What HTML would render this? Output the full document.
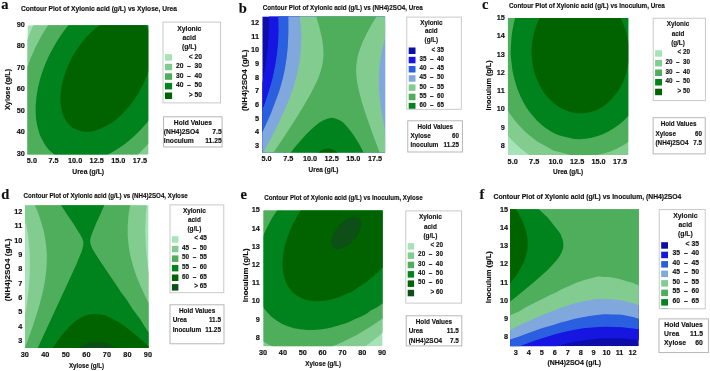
<!DOCTYPE html>
<html><head><meta charset="utf-8"><title>Contour plots</title>
<style>html,body{margin:0;padding:0;background:#fff;width:710px;height:371px;overflow:hidden}svg{display:block}</style>
</head><body>
<svg width="710" height="371" viewBox="0 0 710 371" font-family="Liberation Sans, sans-serif" fill="#111" stroke="#111" stroke-width="0.15">
<defs><filter id="soft" x="0" y="0" width="1" height="1"><feGaussianBlur stdDeviation="0.4"/></filter></defs>
<rect width="710" height="371" fill="#fff" stroke="none"/>
<g filter="url(#soft)">
<clipPath id="cpa"><rect x="27.4" y="25.2" width="120.9" height="129.2"/></clipPath>
<g clip-path="url(#cpa)" stroke="none">
<rect x="27.4" y="25.2" width="120.9" height="129.2" fill="#a6e3b8"/>
<path d="M33.3 25.1 33.4 24.7 148.8 24.7 148.8 154.9 26.9 154.9 26.9 40.6 30.0 32.5 33.3 25.1Z" fill="#82cc8f" fill-rule="evenodd"/>
<path d="M48.4 24.7 148.8 24.7 148.8 143.3 142.4 150.1 137.6 154.9 26.9 154.9 26.9 68.2 30.6 58.2 35.7 46.7 41.5 35.7 44.7 30.5 48.4 24.7Z" fill="#50ae5b" fill-rule="evenodd"/>
<path d="M68.5 25.1 68.8 24.7 148.8 24.7 148.8 120.4 145.4 124.6 139.5 131.0 135.6 134.8 128.7 140.9 123.5 145.0 117.5 149.1 112.6 152.1 107.2 154.9 54.8 154.9 51.9 152.6 48.9 149.9 47.5 148.3 45.5 145.6 43.1 141.6 41.0 137.6 39.7 134.5 38.4 130.3 37.1 125.1 36.1 119.3 35.7 113.1 35.6 106.8 36.1 100.0 36.9 93.7 38.2 86.4 40.1 79.1 42.2 72.3 44.9 65.0 48.1 57.6 51.4 51.1 55.6 43.5 58.7 38.5 63.1 32.1 68.5 25.1Z" fill="#03831e" fill-rule="evenodd"/>
<path d="M99.8 25.0 100.3 24.7 145.5 24.7 147.3 27.6 148.8 30.6 148.8 70.6 146.8 75.9 143.9 82.8 138.6 93.2 132.6 102.1 129.7 105.7 125.8 110.3 120.4 115.7 115.5 119.9 112.1 122.4 106.0 126.1 100.8 128.6 96.4 130.2 91.4 131.4 86.6 131.8 82.7 131.5 79.8 130.8 75.9 129.4 73.4 128.2 71.2 126.7 69.4 125.1 67.5 123.0 65.1 119.3 64.0 117.3 62.6 113.9 61.7 110.6 60.5 102.6 60.4 96.3 61.3 87.4 63.2 79.1 66.1 70.2 70.0 61.2 72.4 56.6 74.9 52.4 80.3 44.5 86.2 37.2 89.6 33.8 93.0 30.5 99.8 25.0Z" fill="#006400" fill-rule="evenodd"/>
</g>
<text x="1.2" y="9.1" font-family="Liberation Serif, serif" font-weight="bold" font-size="14.5">a</text>
<text x="20.9" y="11.0" font-size="7.00" text-anchor="start" font-weight="bold" textLength="156.1" lengthAdjust="spacingAndGlyphs">Contour Plot of Xylonic acid (g/L) vs Xylose, Urea</text>
<text x="24.9" y="155.6" font-size="7.30" text-anchor="end" font-weight="bold">30</text>
<text x="24.9" y="134.2" font-size="7.30" text-anchor="end" font-weight="bold">40</text>
<text x="24.9" y="112.7" font-size="7.30" text-anchor="end" font-weight="bold">50</text>
<text x="24.9" y="91.3" font-size="7.30" text-anchor="end" font-weight="bold">60</text>
<text x="24.9" y="69.8" font-size="7.30" text-anchor="end" font-weight="bold">70</text>
<text x="24.9" y="48.4" font-size="7.30" text-anchor="end" font-weight="bold">80</text>
<text x="24.9" y="26.9" font-size="7.30" text-anchor="end" font-weight="bold">90</text>
<text x="31.9" y="163.4" font-size="7.30" text-anchor="middle" font-weight="bold">5.0</text>
<text x="53.5" y="163.4" font-size="7.30" text-anchor="middle" font-weight="bold">7.5</text>
<text x="75.1" y="163.4" font-size="7.30" text-anchor="middle" font-weight="bold">10.0</text>
<text x="96.7" y="163.4" font-size="7.30" text-anchor="middle" font-weight="bold">12.5</text>
<text x="118.3" y="163.4" font-size="7.30" text-anchor="middle" font-weight="bold">15.0</text>
<text x="139.9" y="163.4" font-size="7.30" text-anchor="middle" font-weight="bold">17.5</text>
<text x="88.2" y="173.8" font-size="7.00" text-anchor="middle" font-weight="bold" textLength="31.8" lengthAdjust="spacingAndGlyphs">Urea (g/L)</text>
<g transform="translate(7.6 89.4) rotate(-90)"><text x="0.0" y="2.5" font-size="7.00" text-anchor="middle" font-weight="bold" textLength="41.2" lengthAdjust="spacingAndGlyphs">Xylose (g/L)</text></g>
<rect x="163.0" y="22.1" width="57.6" height="80.8" fill="#fff" stroke="#c4c4c4" stroke-width="0.9"/>
<clipPath id="lca"><rect x="163.5" y="22.5" width="56.7" height="79.9"/></clipPath><g clip-path="url(#lca)">
<text x="189.3" y="30.5" font-size="7.54" text-anchor="middle" font-weight="bold" textLength="24.0" lengthAdjust="spacingAndGlyphs">Xylonic</text>
<text x="189.3" y="39.6" font-size="7.54" text-anchor="middle" font-weight="bold" textLength="13.5" lengthAdjust="spacingAndGlyphs">acid</text>
<text x="189.3" y="48.6" font-size="7.54" text-anchor="middle" font-weight="bold" textLength="14.6" lengthAdjust="spacingAndGlyphs">(g/L)</text>
<rect x="165.0" y="54.2" width="7.1" height="6.5" fill="#a6e3b8" stroke="none"/>
<text x="202.1" y="58.7" font-size="7.54" text-anchor="end" font-weight="bold" textLength="13.3" lengthAdjust="spacingAndGlyphs" xml:space="preserve">&lt; 20</text>
<rect x="165.0" y="63.8" width="7.1" height="6.5" fill="#82cc8f" stroke="none"/>
<text x="202.1" y="68.2" font-size="7.54" text-anchor="end" font-weight="bold" textLength="26.2" lengthAdjust="spacingAndGlyphs" xml:space="preserve">20  –  30</text>
<rect x="165.0" y="73.3" width="7.1" height="6.5" fill="#50ae5b" stroke="none"/>
<text x="202.1" y="77.8" font-size="7.54" text-anchor="end" font-weight="bold" textLength="26.2" lengthAdjust="spacingAndGlyphs" xml:space="preserve">30  –  40</text>
<rect x="165.0" y="82.9" width="7.1" height="6.5" fill="#03831e" stroke="none"/>
<text x="202.1" y="87.4" font-size="7.54" text-anchor="end" font-weight="bold" textLength="26.2" lengthAdjust="spacingAndGlyphs" xml:space="preserve">40  –  50</text>
<rect x="165.0" y="92.5" width="7.1" height="6.5" fill="#006400" stroke="none"/>
<text x="202.1" y="96.9" font-size="7.54" text-anchor="end" font-weight="bold" textLength="13.3" lengthAdjust="spacingAndGlyphs" xml:space="preserve">&gt; 50</text>
</g>
<rect x="163.6" y="116.8" width="58.5" height="30.2" fill="#fff" stroke="#b0b0b0" stroke-width="0.9"/>
<text x="192.9" y="124.9" font-size="7.54" text-anchor="middle" font-weight="bold" textLength="38.2" lengthAdjust="spacingAndGlyphs">Hold Values</text>
<text x="163.8" y="134.1" font-size="7.54" text-anchor="start" font-weight="bold" textLength="35.2" lengthAdjust="spacingAndGlyphs">(NH4)2SO4</text>
<text x="221.7" y="134.1" font-size="7.54" text-anchor="end" font-weight="bold" textLength="9.4" lengthAdjust="spacingAndGlyphs">7.5</text>
<text x="163.8" y="143.3" font-size="7.54" text-anchor="start" font-weight="bold" textLength="30.0" lengthAdjust="spacingAndGlyphs">Inoculum</text>
<text x="221.7" y="143.3" font-size="7.54" text-anchor="end" font-weight="bold" textLength="16.5" lengthAdjust="spacingAndGlyphs">11.25</text>
<clipPath id="cpb"><rect x="262.3" y="16.4" width="122.8" height="136.2"/></clipPath>
<g clip-path="url(#cpb)" stroke="none">
<rect x="262.3" y="16.4" width="122.8" height="136.2" fill="#0c0aa8"/>
<path d="M269.3 15.9 385.6 15.9 385.6 153.1 261.8 153.1 261.8 84.3 264.9 68.2 267.0 52.3 268.3 36.8 268.7 28.0 269.0 15.9 269.3 15.9Z" fill="#1212e0" fill-rule="evenodd"/>
<path d="M278.2 15.9 385.6 15.9 385.6 153.1 261.8 153.1 261.8 111.0 265.3 101.9 269.9 87.5 272.5 78.2 275.1 66.0 276.9 54.5 278.1 41.8 278.5 31.3 278.2 15.9Z" fill="#2a5ee0" fill-rule="evenodd"/>
<path d="M288.6 15.9 385.6 15.9 385.6 153.1 261.8 153.1 261.8 133.7 270.3 115.1 276.4 99.1 279.5 90.3 281.4 83.7 283.0 77.6 284.7 69.9 286.6 58.3 287.8 46.8 288.4 32.4 288.4 15.9 288.6 15.9Z" fill="#80a8dc" fill-rule="evenodd"/>
<path d="M300.1 15.9 385.6 15.9 385.6 36.5 382.8 46.8 380.6 58.3 379.7 64.9 379.2 70.4 379.0 74.3 378.9 80.9 379.1 90.3 379.9 99.1 380.7 105.7 381.9 114.0 385.6 133.5 385.6 153.1 262.9 153.1 269.8 140.4 275.3 130.0 279.8 120.6 283.9 111.8 289.2 99.1 292.4 90.3 296.7 76.0 299.7 61.1 301.1 46.8 301.2 35.7 300.9 26.4 299.7 15.9 300.1 15.9Z" fill="#82cc8f" fill-rule="evenodd"/>
<path d="M316.5 15.9 376.8 15.9 370.9 25.8 366.5 34.1 362.8 41.8 360.1 48.4 358.3 53.9 357.2 58.9 356.3 65.5 356.1 71.0 356.7 78.7 357.6 84.8 359.5 93.0 361.9 101.9 364.6 110.7 368.9 123.3 372.2 132.7 379.9 153.1 273.2 153.1 287.1 132.2 292.4 123.9 299.4 112.9 306.7 100.8 311.3 92.5 315.2 84.8 318.2 78.2 320.7 71.0 322.2 65.5 323.1 60.0 323.5 54.5 323.3 48.4 322.8 44.0 321.8 37.4 319.2 26.4 316.0 15.9 316.5 15.9Z" fill="#50ae5b" fill-rule="evenodd"/>
<path d="M331.9 117.8 333.9 118.0 335.4 118.4 339.9 120.3 342.8 122.3 346.3 125.7 350.8 131.2 354.3 136.3 359.6 144.8 363.9 153.1 290.3 153.1 296.3 145.4 306.0 134.6 311.5 129.2 315.0 126.1 319.5 122.6 323.0 120.6 327.9 118.5 329.9 118.0 331.9 117.8Z" fill="#03831e" fill-rule="evenodd"/>
<path d="M325.4 148.7 327.4 148.4 328.9 148.4 330.4 148.7 332.9 149.6 335.4 151.0 337.7 153.1 317.3 153.1 321.5 150.3 323.5 149.3 325.4 148.7Z" fill="#006400" fill-rule="evenodd"/>
</g>
<text x="238.7" y="12.7" font-family="Liberation Serif, serif" font-weight="bold" font-size="14.5">b</text>
<text x="262.7" y="9.9" font-size="7.00" text-anchor="start" font-weight="bold" textLength="160.0" lengthAdjust="spacingAndGlyphs">Contour Plot of Xylonic acid (g/L) vs (NH4)2SO4, Urea</text>
<text x="259.0" y="147.9" font-size="7.30" text-anchor="end" font-weight="bold">3</text>
<text x="259.0" y="134.3" font-size="7.30" text-anchor="end" font-weight="bold">4</text>
<text x="259.0" y="120.6" font-size="7.30" text-anchor="end" font-weight="bold">5</text>
<text x="259.0" y="106.9" font-size="7.30" text-anchor="end" font-weight="bold">6</text>
<text x="259.0" y="93.3" font-size="7.30" text-anchor="end" font-weight="bold">7</text>
<text x="259.0" y="79.6" font-size="7.30" text-anchor="end" font-weight="bold">8</text>
<text x="259.0" y="65.9" font-size="7.30" text-anchor="end" font-weight="bold">9</text>
<text x="259.0" y="52.3" font-size="7.30" text-anchor="end" font-weight="bold">10</text>
<text x="259.0" y="38.6" font-size="7.30" text-anchor="end" font-weight="bold">11</text>
<text x="259.0" y="24.9" font-size="7.30" text-anchor="end" font-weight="bold">12</text>
<text x="266.6" y="161.1" font-size="7.30" text-anchor="middle" font-weight="bold">5.0</text>
<text x="288.3" y="161.1" font-size="7.30" text-anchor="middle" font-weight="bold">7.5</text>
<text x="310.0" y="161.1" font-size="7.30" text-anchor="middle" font-weight="bold">10.0</text>
<text x="331.6" y="161.1" font-size="7.30" text-anchor="middle" font-weight="bold">12.5</text>
<text x="353.3" y="161.1" font-size="7.30" text-anchor="middle" font-weight="bold">15.0</text>
<text x="375.0" y="161.1" font-size="7.30" text-anchor="middle" font-weight="bold">17.5</text>
<text x="323.5" y="171.7" font-size="7.00" text-anchor="middle" font-weight="bold" textLength="30.0" lengthAdjust="spacingAndGlyphs">Urea (g/L)</text>
<g transform="translate(244.1 80.4) rotate(-90)"><text x="0.0" y="2.5" font-size="7.00" text-anchor="middle" font-weight="bold" textLength="61.4" lengthAdjust="spacingAndGlyphs">(NH4)2SO4 (g/L)</text></g>
<rect x="406.8" y="17.1" width="54.5" height="92.2" fill="#fff" stroke="#c4c4c4" stroke-width="0.9"/>
<clipPath id="lcb"><rect x="407.2" y="17.5" width="53.6" height="91.3"/></clipPath><g clip-path="url(#lcb)">
<text x="431.4" y="24.5" font-size="7.28" text-anchor="middle" font-weight="bold" textLength="22.3" lengthAdjust="spacingAndGlyphs">Xylonic</text>
<text x="431.4" y="33.4" font-size="7.28" text-anchor="middle" font-weight="bold" textLength="12.6" lengthAdjust="spacingAndGlyphs">acid</text>
<text x="431.4" y="42.4" font-size="7.28" text-anchor="middle" font-weight="bold" textLength="13.6" lengthAdjust="spacingAndGlyphs">(g/L)</text>
<rect x="408.7" y="47.5" width="6.8" height="6.5" fill="#0c0aa8" stroke="none"/>
<text x="443.9" y="51.6" font-size="7.28" text-anchor="end" font-weight="bold" textLength="12.4" lengthAdjust="spacingAndGlyphs" xml:space="preserve">&lt; 35</text>
<rect x="408.7" y="56.8" width="6.8" height="6.5" fill="#1212e0" stroke="none"/>
<text x="443.9" y="60.8" font-size="7.28" text-anchor="end" font-weight="bold" textLength="24.4" lengthAdjust="spacingAndGlyphs" xml:space="preserve">35  –  40</text>
<rect x="408.7" y="66.0" width="6.8" height="6.5" fill="#2a5ee0" stroke="none"/>
<text x="443.9" y="70.0" font-size="7.28" text-anchor="end" font-weight="bold" textLength="24.4" lengthAdjust="spacingAndGlyphs" xml:space="preserve">40  –  45</text>
<rect x="408.7" y="75.2" width="6.8" height="6.5" fill="#80a8dc" stroke="none"/>
<text x="443.9" y="79.3" font-size="7.28" text-anchor="end" font-weight="bold" textLength="24.4" lengthAdjust="spacingAndGlyphs" xml:space="preserve">45  –  50</text>
<rect x="408.7" y="84.4" width="6.8" height="6.5" fill="#82cc8f" stroke="none"/>
<text x="443.9" y="88.5" font-size="7.28" text-anchor="end" font-weight="bold" textLength="24.4" lengthAdjust="spacingAndGlyphs" xml:space="preserve">50  –  55</text>
<rect x="408.7" y="93.7" width="6.8" height="6.5" fill="#50ae5b" stroke="none"/>
<text x="443.9" y="97.7" font-size="7.28" text-anchor="end" font-weight="bold" textLength="24.4" lengthAdjust="spacingAndGlyphs" xml:space="preserve">55  –  60</text>
<rect x="408.7" y="102.9" width="6.8" height="6.5" fill="#03831e" stroke="none"/>
<text x="443.9" y="106.9" font-size="7.28" text-anchor="end" font-weight="bold" textLength="24.4" lengthAdjust="spacingAndGlyphs" xml:space="preserve">60  –  65</text>
<rect x="408.7" y="112.1" width="6.8" height="6.5" fill="#006400" stroke="none"/>
</g>
<rect x="407.8" y="120.8" width="54.6" height="31.2" fill="#fff" stroke="#b0b0b0" stroke-width="0.9"/>
<text x="435.3" y="128.7" font-size="7.28" text-anchor="middle" font-weight="bold" textLength="35.6" lengthAdjust="spacingAndGlyphs">Hold Values</text>
<text x="410.5" y="137.6" font-size="7.28" text-anchor="start" font-weight="bold" textLength="20.2" lengthAdjust="spacingAndGlyphs">Xylose</text>
<text x="459.0" y="137.6" font-size="7.28" text-anchor="end" font-weight="bold" textLength="7.0" lengthAdjust="spacingAndGlyphs">60</text>
<text x="410.5" y="146.7" font-size="7.28" text-anchor="start" font-weight="bold" textLength="27.9" lengthAdjust="spacingAndGlyphs">Inoculum</text>
<text x="459.0" y="146.7" font-size="7.28" text-anchor="end" font-weight="bold" textLength="15.4" lengthAdjust="spacingAndGlyphs">11.25</text>
<clipPath id="cpc"><rect x="507.9" y="17.9" width="120.4" height="137.1"/></clipPath>
<g clip-path="url(#cpc)" stroke="none">
<rect x="507.9" y="17.9" width="120.4" height="137.1" fill="#a6e3b8"/>
<path d="M507.9 17.4 628.8 17.4 628.8 155.5 530.0 155.5 524.5 151.6 520.1 148.1 514.4 142.7 509.4 137.4 507.4 135.1 507.4 17.4 507.9 17.4Z" fill="#82cc8f" fill-rule="evenodd"/>
<path d="M507.9 17.4 628.8 17.4 628.8 141.6 626.4 143.3 622.0 146.1 616.1 149.1 609.8 151.7 603.4 153.6 594.9 155.5 571.7 155.5 563.5 153.0 553.2 150.4 545.9 146.2 537.2 141.6 527.4 133.7 524.4 131.1 519.1 125.5 515.2 120.9 510.4 114.5 507.4 109.7 507.4 17.4 507.9 17.4Z" fill="#50ae5b" fill-rule="evenodd"/>
<path d="M515.2 17.4 628.8 17.4 628.8 115.5 623.9 120.4 619.2 124.4 613.8 128.3 608.8 131.3 603.4 134.0 598.6 135.8 591.7 137.8 585.9 138.8 579.6 139.2 574.2 138.9 569.8 138.1 559.6 135.4 555.7 133.9 551.8 131.9 544.9 127.5 540.6 124.0 536.4 120.0 529.8 112.3 526.4 107.4 523.1 101.7 520.1 95.6 517.2 88.4 515.3 82.3 513.3 74.5 512.3 69.5 511.0 57.9 510.7 53.5 510.9 46.8 511.4 38.5 512.2 31.8 513.8 23.5 515.2 17.4Z" fill="#03831e" fill-rule="evenodd"/>
<path d="M540.1 17.4 620.3 17.4 622.5 21.8 625.1 28.5 626.6 33.5 628.0 39.6 628.8 45.0 628.8 61.1 628.5 62.9 627.0 70.1 624.7 77.9 622.5 83.1 619.8 88.4 616.9 92.8 612.9 97.8 609.3 101.5 605.4 104.8 601.8 107.2 598.1 109.3 594.2 110.9 590.3 112.1 586.9 112.8 583.0 113.2 578.1 113.2 573.7 112.7 569.8 111.8 565.4 110.3 562.0 108.7 558.6 106.7 554.7 104.0 551.4 101.1 548.1 97.8 544.9 93.9 542.0 89.7 539.7 85.6 537.3 80.6 535.2 75.0 534.0 71.2 533.0 66.2 532.1 60.7 531.6 55.1 531.5 50.7 531.9 45.1 532.5 40.1 533.3 35.7 534.5 30.7 536.0 26.3 538.1 21.1 540.1 17.4Z" fill="#006400" fill-rule="evenodd"/>
</g>
<text x="481.9" y="8.7" font-family="Liberation Serif, serif" font-weight="bold" font-size="14.5">c</text>
<text x="509.0" y="7.5" font-size="7.00" text-anchor="start" font-weight="bold" textLength="155.7" lengthAdjust="spacingAndGlyphs">Contour Plot of Xylonic acid (g/L) vs Inoculum, Urea</text>
<text x="504.8" y="147.9" font-size="7.30" text-anchor="end" font-weight="bold">8</text>
<text x="504.8" y="129.7" font-size="7.30" text-anchor="end" font-weight="bold">9</text>
<text x="504.8" y="111.4" font-size="7.30" text-anchor="end" font-weight="bold">10</text>
<text x="504.8" y="93.1" font-size="7.30" text-anchor="end" font-weight="bold">11</text>
<text x="504.8" y="74.8" font-size="7.30" text-anchor="end" font-weight="bold">12</text>
<text x="504.8" y="56.6" font-size="7.30" text-anchor="end" font-weight="bold">13</text>
<text x="504.8" y="38.3" font-size="7.30" text-anchor="end" font-weight="bold">14</text>
<text x="504.8" y="20.0" font-size="7.30" text-anchor="end" font-weight="bold">15</text>
<text x="512.7" y="163.6" font-size="7.30" text-anchor="middle" font-weight="bold">5.0</text>
<text x="534.2" y="163.6" font-size="7.30" text-anchor="middle" font-weight="bold">7.5</text>
<text x="555.6" y="163.6" font-size="7.30" text-anchor="middle" font-weight="bold">10.0</text>
<text x="577.1" y="163.6" font-size="7.30" text-anchor="middle" font-weight="bold">12.5</text>
<text x="598.5" y="163.6" font-size="7.30" text-anchor="middle" font-weight="bold">15.0</text>
<text x="620.0" y="163.6" font-size="7.30" text-anchor="middle" font-weight="bold">17.5</text>
<text x="568.1" y="174.4" font-size="7.00" text-anchor="middle" font-weight="bold" textLength="30.0" lengthAdjust="spacingAndGlyphs">Urea (g/L)</text>
<g transform="translate(488.8 85.4) rotate(-90)"><text x="0.0" y="2.5" font-size="7.00" text-anchor="middle" font-weight="bold" textLength="50.0" lengthAdjust="spacingAndGlyphs">Inoculum (g/L)</text></g>
<rect x="653.2" y="18.2" width="52.2" height="82.4" fill="#fff" stroke="#c4c4c4" stroke-width="0.9"/>
<clipPath id="lcc"><rect x="653.6" y="18.7" width="51.3" height="81.5"/></clipPath><g clip-path="url(#lcc)">
<text x="678.0" y="26.2" font-size="7.58" text-anchor="middle" font-weight="bold" textLength="22.5" lengthAdjust="spacingAndGlyphs">Xylonic</text>
<text x="678.0" y="35.9" font-size="7.58" text-anchor="middle" font-weight="bold" textLength="12.6" lengthAdjust="spacingAndGlyphs">acid</text>
<text x="678.0" y="45.1" font-size="7.58" text-anchor="middle" font-weight="bold" textLength="13.7" lengthAdjust="spacingAndGlyphs">(g/L)</text>
<rect x="655.1" y="50.2" width="6.9" height="6.5" fill="#a6e3b8" stroke="none"/>
<text x="690.1" y="54.4" font-size="7.58" text-anchor="end" font-weight="bold" textLength="12.5" lengthAdjust="spacingAndGlyphs" xml:space="preserve">&lt; 20</text>
<rect x="655.1" y="59.9" width="6.9" height="6.5" fill="#82cc8f" stroke="none"/>
<text x="690.1" y="64.0" font-size="7.58" text-anchor="end" font-weight="bold" textLength="24.6" lengthAdjust="spacingAndGlyphs" xml:space="preserve">20  –  30</text>
<rect x="655.1" y="69.5" width="6.9" height="6.5" fill="#50ae5b" stroke="none"/>
<text x="690.1" y="73.6" font-size="7.58" text-anchor="end" font-weight="bold" textLength="24.6" lengthAdjust="spacingAndGlyphs" xml:space="preserve">30  –  40</text>
<rect x="655.1" y="79.0" width="6.9" height="6.5" fill="#03831e" stroke="none"/>
<text x="690.1" y="83.2" font-size="7.58" text-anchor="end" font-weight="bold" textLength="24.6" lengthAdjust="spacingAndGlyphs" xml:space="preserve">40  –  50</text>
<rect x="655.1" y="88.7" width="6.9" height="6.5" fill="#006400" stroke="none"/>
<text x="690.1" y="92.8" font-size="7.58" text-anchor="end" font-weight="bold" textLength="12.5" lengthAdjust="spacingAndGlyphs" xml:space="preserve">&gt; 50</text>
</g>
<rect x="653.1" y="117.7" width="52.1" height="36.2" fill="#fff" stroke="#b0b0b0" stroke-width="0.9"/>
<text x="678.6" y="125.7" font-size="7.58" text-anchor="middle" font-weight="bold" textLength="35.8" lengthAdjust="spacingAndGlyphs">Hold Values</text>
<text x="655.5" y="135.5" font-size="7.58" text-anchor="start" font-weight="bold" textLength="20.4" lengthAdjust="spacingAndGlyphs">Xylose</text>
<text x="702.0" y="135.5" font-size="7.58" text-anchor="end" font-weight="bold" textLength="7.0" lengthAdjust="spacingAndGlyphs">60</text>
<text x="655.5" y="144.8" font-size="7.58" text-anchor="start" font-weight="bold" textLength="33.0" lengthAdjust="spacingAndGlyphs">(NH4)2SO4</text>
<text x="702.0" y="144.8" font-size="7.58" text-anchor="end" font-weight="bold" textLength="8.8" lengthAdjust="spacingAndGlyphs">7.5</text>
<clipPath id="cpd"><rect x="24.9" y="205.3" width="123.7" height="142.8"/></clipPath>
<g clip-path="url(#cpd)" stroke="none">
<rect x="24.9" y="205.3" width="123.7" height="142.8" fill="#a6e3b8"/>
<path d="M24.9 204.8 146.9 204.8 145.8 214.0 145.7 220.4 145.2 230.2 145.8 244.6 146.7 255.6 148.3 268.9 149.1 273.1 149.1 348.6 24.4 348.6 24.4 316.8 25.4 312.8 26.2 308.8 28.4 292.0 29.5 277.6 29.9 264.9 29.5 251.0 28.3 237.1 26.8 227.9 24.4 218.4 24.4 204.8 24.9 204.8Z" fill="#82cc8f" fill-rule="evenodd"/>
<path d="M34.9 204.8 130.2 204.8 128.6 214.0 127.7 226.2 127.7 236.0 128.6 245.2 129.6 252.2 130.9 257.9 133.3 266.6 135.1 272.4 137.7 279.3 141.4 288.0 145.4 296.6 149.1 304.0 149.1 348.6 24.6 348.6 29.3 335.9 33.2 324.9 37.1 312.8 39.5 304.7 42.2 294.3 43.7 287.4 45.5 277.0 46.4 268.9 46.8 260.2 46.8 253.9 46.1 245.2 45.0 237.7 43.3 229.6 41.5 223.3 38.5 214.0 34.9 204.8Z" fill="#50ae5b" fill-rule="evenodd"/>
<path d="M61.0 204.8 104.5 204.8 100.5 214.1 96.4 222.7 91.3 235.4 90.5 238.3 90.2 240.6 90.2 242.3 90.7 244.6 91.8 247.5 93.4 250.4 99.2 259.7 110.0 275.8 115.0 283.0 120.5 291.4 126.9 300.1 132.7 309.3 140.1 319.1 145.4 327.8 149.1 333.0 149.1 348.6 37.4 348.6 76.1 264.9 82.0 250.4 83.2 245.8 83.4 243.5 83.2 241.2 82.2 238.3 80.7 235.4 72.8 222.7 66.4 213.5 60.8 204.8 61.0 204.8Z" fill="#03831e" fill-rule="evenodd"/>
<path d="M93.5 313.9 99.0 314.2 104.0 315.1 111.5 318.2 118.1 321.8 126.1 327.2 137.1 336.0 141.6 340.3 145.6 343.6 148.4 346.3 149.1 347.1 149.1 348.6 52.2 348.6 56.5 342.3 63.0 333.7 68.5 327.5 73.5 322.8 78.5 319.1 84.0 316.1 88.0 314.7 90.5 314.2 93.5 313.9Z" fill="#006400" fill-rule="evenodd"/>
<path d="M92.5 342.2 95.5 342.0 98.5 342.0 102.0 342.4 105.5 343.1 110.5 345.0 117.7 348.6 77.2 348.6 81.0 346.3 84.5 344.5 89.0 343.0 92.5 342.2Z" fill="#085014" fill-rule="evenodd"/>
</g>
<text x="1.2" y="199.4" font-family="Liberation Serif, serif" font-weight="bold" font-size="14.5">d</text>
<text x="23.6" y="198.4" font-size="7.00" text-anchor="start" font-weight="bold" textLength="164.2" lengthAdjust="spacingAndGlyphs">Contour Plot of Xylonic acid (g/L) vs (NH4)2SO4, Xylose</text>
<text x="22.3" y="342.9" font-size="7.30" text-anchor="end" font-weight="bold">3</text>
<text x="22.3" y="328.6" font-size="7.30" text-anchor="end" font-weight="bold">4</text>
<text x="22.3" y="314.2" font-size="7.30" text-anchor="end" font-weight="bold">5</text>
<text x="22.3" y="299.9" font-size="7.30" text-anchor="end" font-weight="bold">6</text>
<text x="22.3" y="285.6" font-size="7.30" text-anchor="end" font-weight="bold">7</text>
<text x="22.3" y="271.2" font-size="7.30" text-anchor="end" font-weight="bold">8</text>
<text x="22.3" y="256.9" font-size="7.30" text-anchor="end" font-weight="bold">9</text>
<text x="22.3" y="242.5" font-size="7.30" text-anchor="end" font-weight="bold">10</text>
<text x="22.3" y="228.2" font-size="7.30" text-anchor="end" font-weight="bold">11</text>
<text x="22.3" y="213.8" font-size="7.30" text-anchor="end" font-weight="bold">12</text>
<text x="24.8" y="357.0" font-size="7.30" text-anchor="middle" font-weight="bold">30</text>
<text x="45.3" y="357.0" font-size="7.30" text-anchor="middle" font-weight="bold">40</text>
<text x="65.8" y="357.0" font-size="7.30" text-anchor="middle" font-weight="bold">50</text>
<text x="86.4" y="357.0" font-size="7.30" text-anchor="middle" font-weight="bold">60</text>
<text x="106.9" y="357.0" font-size="7.30" text-anchor="middle" font-weight="bold">70</text>
<text x="127.4" y="357.0" font-size="7.30" text-anchor="middle" font-weight="bold">80</text>
<text x="147.9" y="357.0" font-size="7.30" text-anchor="middle" font-weight="bold">90</text>
<text x="86.5" y="367.8" font-size="7.00" text-anchor="middle" font-weight="bold" textLength="35.2" lengthAdjust="spacingAndGlyphs">Xylose (g/L)</text>
<g transform="translate(7.1 269.9) rotate(-90)"><text x="0.0" y="2.5" font-size="7.00" text-anchor="middle" font-weight="bold" textLength="62.5" lengthAdjust="spacingAndGlyphs">(NH4)2SO4 (g/L)</text></g>
<rect x="170.0" y="204.9" width="53.8" height="87.8" fill="#fff" stroke="#c4c4c4" stroke-width="0.9"/>
<clipPath id="lcd"><rect x="170.5" y="205.4" width="52.9" height="86.9"/></clipPath><g clip-path="url(#lcd)">
<text x="194.4" y="212.8" font-size="7.55" text-anchor="middle" font-weight="bold" textLength="22.8" lengthAdjust="spacingAndGlyphs">Xylonic</text>
<text x="194.4" y="221.9" font-size="7.55" text-anchor="middle" font-weight="bold" textLength="12.8" lengthAdjust="spacingAndGlyphs">acid</text>
<text x="194.4" y="231.1" font-size="7.55" text-anchor="middle" font-weight="bold" textLength="13.9" lengthAdjust="spacingAndGlyphs">(g/L)</text>
<rect x="171.9" y="236.2" width="6.5" height="6.5" fill="#a6e3b8" stroke="none"/>
<text x="206.9" y="240.3" font-size="7.55" text-anchor="end" font-weight="bold" textLength="12.6" lengthAdjust="spacingAndGlyphs" xml:space="preserve">&lt; 45</text>
<rect x="171.9" y="245.8" width="6.5" height="6.5" fill="#82cc8f" stroke="none"/>
<text x="206.9" y="249.9" font-size="7.55" text-anchor="end" font-weight="bold" textLength="24.9" lengthAdjust="spacingAndGlyphs" xml:space="preserve">45  –  50</text>
<rect x="171.9" y="255.4" width="6.5" height="6.5" fill="#50ae5b" stroke="none"/>
<text x="206.9" y="259.4" font-size="7.55" text-anchor="end" font-weight="bold" textLength="24.9" lengthAdjust="spacingAndGlyphs" xml:space="preserve">50  –  55</text>
<rect x="171.9" y="264.9" width="6.5" height="6.5" fill="#03831e" stroke="none"/>
<text x="206.9" y="269.0" font-size="7.55" text-anchor="end" font-weight="bold" textLength="24.9" lengthAdjust="spacingAndGlyphs" xml:space="preserve">55  –  60</text>
<rect x="171.9" y="274.5" width="6.5" height="6.5" fill="#006400" stroke="none"/>
<text x="206.9" y="278.5" font-size="7.55" text-anchor="end" font-weight="bold" textLength="24.9" lengthAdjust="spacingAndGlyphs" xml:space="preserve">60  –  65</text>
<rect x="171.9" y="284.1" width="6.5" height="6.5" fill="#085014" stroke="none"/>
<text x="206.9" y="288.1" font-size="7.55" text-anchor="end" font-weight="bold" textLength="12.6" lengthAdjust="spacingAndGlyphs" xml:space="preserve">&gt; 65</text>
</g>
<rect x="170.0" y="304.8" width="54.0" height="39.0" fill="#fff" stroke="#b0b0b0" stroke-width="0.9"/>
<text x="197.1" y="312.5" font-size="7.55" text-anchor="middle" font-weight="bold" textLength="36.3" lengthAdjust="spacingAndGlyphs">Hold Values</text>
<text x="172.7" y="322.3" font-size="7.55" text-anchor="start" font-weight="bold" textLength="14.2" lengthAdjust="spacingAndGlyphs">Urea</text>
<text x="221.0" y="322.3" font-size="7.55" text-anchor="end" font-weight="bold" textLength="12.1" lengthAdjust="spacingAndGlyphs">11.5</text>
<text x="172.7" y="331.7" font-size="7.55" text-anchor="start" font-weight="bold" textLength="28.5" lengthAdjust="spacingAndGlyphs">Inoculum</text>
<text x="221.0" y="331.7" font-size="7.55" text-anchor="end" font-weight="bold" textLength="15.7" lengthAdjust="spacingAndGlyphs">11.25</text>
<clipPath id="cpe"><rect x="263.5" y="210.5" width="119.1" height="135.8"/></clipPath>
<g clip-path="url(#cpe)" stroke="none">
<rect x="263.5" y="210.5" width="119.1" height="135.8" fill="#a6e3b8"/>
<path d="M263.5 210.0 383.1 210.0 383.1 332.1 378.8 336.0 370.6 342.5 364.5 346.8 263.0 346.8 263.0 210.0 263.5 210.0Z" fill="#82cc8f" fill-rule="evenodd"/>
<path d="M263.5 210.0 383.1 210.0 383.1 318.3 372.0 325.8 357.1 334.8 342.6 342.0 331.4 346.8 273.3 346.8 267.8 344.2 263.0 341.3 263.0 210.0 263.5 210.0Z" fill="#50ae5b" fill-rule="evenodd"/>
<path d="M277.0 210.4 277.2 210.0 383.1 210.0 383.1 303.3 376.4 307.8 370.6 310.6 367.7 312.9 364.3 315.0 360.9 316.7 355.6 318.7 352.2 320.6 349.1 322.1 345.0 323.5 332.5 327.3 327.1 328.4 319.9 329.5 313.6 330.0 306.9 330.0 300.1 329.3 293.9 328.2 287.6 326.2 281.8 323.7 276.5 320.6 271.7 316.9 269.3 314.6 266.6 311.6 264.5 308.9 263.0 306.6 263.0 236.3 265.4 230.8 269.2 223.2 273.0 216.6 277.0 210.4Z" fill="#03831e" fill-rule="evenodd"/>
<path d="M300.6 210.5 301.0 210.0 383.1 210.0 383.1 267.1 377.6 272.6 367.2 281.6 352.7 291.3 341.1 296.3 336.3 298.0 327.1 300.6 319.0 301.3 313.2 301.3 308.8 300.6 304.0 299.2 300.1 297.6 296.8 295.6 293.4 292.9 290.3 289.7 287.7 285.8 285.6 281.4 284.1 277.0 283.0 271.5 282.5 266.6 282.5 260.5 283.2 254.0 284.5 246.8 287.9 235.8 291.2 227.6 292.8 224.3 296.8 216.8 300.6 210.5Z" fill="#006400" fill-rule="evenodd"/>
<path d="M351.7 217.1 354.6 216.7 356.1 216.8 357.5 217.2 358.5 217.7 359.5 218.5 360.7 220.4 361.2 223.2 361.1 225.9 360.3 229.2 358.6 233.1 356.3 236.9 353.6 240.2 350.8 243.1 347.3 245.7 344.0 247.6 340.2 248.8 337.8 249.1 336.3 248.8 335.3 248.5 333.9 247.4 332.5 245.2 332.0 244.1 331.6 242.4 331.7 240.2 332.1 238.0 333.0 235.3 334.3 232.5 335.9 229.8 337.8 227.2 339.8 224.8 342.1 222.6 344.5 220.7 346.9 219.1 349.3 217.9 351.7 217.1Z" fill="#085014" fill-rule="evenodd"/>
</g>
<text x="240.5" y="198.6" font-family="Liberation Serif, serif" font-weight="bold" font-size="14.5">e</text>
<text x="264.3" y="200.2" font-size="7.00" text-anchor="start" font-weight="bold" textLength="158.4" lengthAdjust="spacingAndGlyphs">Contour Plot of Xylonic acid (g/L) vs Inoculum, Xylose</text>
<text x="259.8" y="339.6" font-size="7.30" text-anchor="end" font-weight="bold">8</text>
<text x="259.8" y="321.5" font-size="7.30" text-anchor="end" font-weight="bold">9</text>
<text x="259.8" y="303.3" font-size="7.30" text-anchor="end" font-weight="bold">10</text>
<text x="259.8" y="285.1" font-size="7.30" text-anchor="end" font-weight="bold">11</text>
<text x="259.8" y="266.9" font-size="7.30" text-anchor="end" font-weight="bold">12</text>
<text x="259.8" y="248.8" font-size="7.30" text-anchor="end" font-weight="bold">13</text>
<text x="259.8" y="230.6" font-size="7.30" text-anchor="end" font-weight="bold">14</text>
<text x="259.8" y="212.4" font-size="7.30" text-anchor="end" font-weight="bold">15</text>
<text x="263.0" y="355.3" font-size="7.30" text-anchor="middle" font-weight="bold">30</text>
<text x="282.9" y="355.3" font-size="7.30" text-anchor="middle" font-weight="bold">40</text>
<text x="302.7" y="355.3" font-size="7.30" text-anchor="middle" font-weight="bold">50</text>
<text x="322.6" y="355.3" font-size="7.30" text-anchor="middle" font-weight="bold">60</text>
<text x="342.4" y="355.3" font-size="7.30" text-anchor="middle" font-weight="bold">70</text>
<text x="362.2" y="355.3" font-size="7.30" text-anchor="middle" font-weight="bold">80</text>
<text x="382.1" y="355.3" font-size="7.30" text-anchor="middle" font-weight="bold">90</text>
<text x="323.2" y="366.0" font-size="7.00" text-anchor="middle" font-weight="bold" textLength="35.8" lengthAdjust="spacingAndGlyphs">Xylose (g/L)</text>
<g transform="translate(245.6 275.4) rotate(-90)"><text x="0.0" y="2.5" font-size="7.00" text-anchor="middle" font-weight="bold" textLength="53.8" lengthAdjust="spacingAndGlyphs">Inoculum (g/L)</text></g>
<rect x="405.8" y="210.9" width="55.8" height="92.2" fill="#fff" stroke="#c4c4c4" stroke-width="0.9"/>
<clipPath id="lce"><rect x="406.2" y="211.4" width="54.9" height="91.3"/></clipPath><g clip-path="url(#lce)">
<text x="430.4" y="218.8" font-size="7.37" text-anchor="middle" font-weight="bold" textLength="22.8" lengthAdjust="spacingAndGlyphs">Xylonic</text>
<text x="430.4" y="228.5" font-size="7.37" text-anchor="middle" font-weight="bold" textLength="12.8" lengthAdjust="spacingAndGlyphs">acid</text>
<text x="430.4" y="237.8" font-size="7.37" text-anchor="middle" font-weight="bold" textLength="13.9" lengthAdjust="spacingAndGlyphs">(g/L)</text>
<rect x="407.7" y="243.1" width="6.4" height="6.5" fill="#a6e3b8" stroke="none"/>
<text x="443.0" y="247.0" font-size="7.37" text-anchor="end" font-weight="bold" textLength="12.6" lengthAdjust="spacingAndGlyphs" xml:space="preserve">&lt; 20</text>
<rect x="407.7" y="252.4" width="6.4" height="6.5" fill="#82cc8f" stroke="none"/>
<text x="443.0" y="256.3" font-size="7.37" text-anchor="end" font-weight="bold" textLength="24.9" lengthAdjust="spacingAndGlyphs" xml:space="preserve">20  –  30</text>
<rect x="407.7" y="261.7" width="6.4" height="6.5" fill="#50ae5b" stroke="none"/>
<text x="443.0" y="265.7" font-size="7.37" text-anchor="end" font-weight="bold" textLength="24.9" lengthAdjust="spacingAndGlyphs" xml:space="preserve">30  –  40</text>
<rect x="407.7" y="271.1" width="6.4" height="6.5" fill="#03831e" stroke="none"/>
<text x="443.0" y="275.0" font-size="7.37" text-anchor="end" font-weight="bold" textLength="24.9" lengthAdjust="spacingAndGlyphs" xml:space="preserve">40  –  50</text>
<rect x="407.7" y="280.4" width="6.4" height="6.5" fill="#006400" stroke="none"/>
<text x="443.0" y="284.4" font-size="7.37" text-anchor="end" font-weight="bold" textLength="24.9" lengthAdjust="spacingAndGlyphs" xml:space="preserve">50  –  60</text>
<rect x="407.7" y="289.8" width="6.4" height="6.5" fill="#085014" stroke="none"/>
<text x="443.0" y="293.7" font-size="7.37" text-anchor="end" font-weight="bold" textLength="12.6" lengthAdjust="spacingAndGlyphs" xml:space="preserve">&gt; 60</text>
</g>
<rect x="406.2" y="315.8" width="55.6" height="30.1" fill="#fff" stroke="#b0b0b0" stroke-width="0.9"/>
<text x="433.9" y="323.7" font-size="7.37" text-anchor="middle" font-weight="bold" textLength="36.3" lengthAdjust="spacingAndGlyphs">Hold Values</text>
<text x="408.7" y="333.4" font-size="7.37" text-anchor="start" font-weight="bold" textLength="14.2" lengthAdjust="spacingAndGlyphs">Urea</text>
<text x="458.9" y="333.4" font-size="7.37" text-anchor="end" font-weight="bold" textLength="12.1" lengthAdjust="spacingAndGlyphs">11.5</text>
<text x="408.7" y="342.8" font-size="7.37" text-anchor="start" font-weight="bold" textLength="33.5" lengthAdjust="spacingAndGlyphs">(NH4)2SO4</text>
<text x="458.9" y="342.8" font-size="7.37" text-anchor="end" font-weight="bold" textLength="8.9" lengthAdjust="spacingAndGlyphs">7.5</text>
<clipPath id="cpf"><rect x="510.1" y="209.2" width="128.7" height="137.0"/></clipPath>
<g clip-path="url(#cpf)" stroke="none">
<rect x="510.1" y="209.2" width="128.7" height="137.0" fill="#0c0aa8"/>
<path d="M510.1 208.7 639.3 208.7 639.3 340.3 621.1 338.5 608.0 338.4 602.8 338.5 590.9 339.5 578.9 341.2 569.5 343.1 555.4 346.7 509.6 346.7 509.6 208.7 510.1 208.7Z" fill="#1212e0" fill-rule="evenodd"/>
<path d="M510.1 208.7 639.3 208.7 639.3 329.4 621.6 327.2 606.5 326.7 599.2 326.9 583.6 328.3 573.1 330.1 560.1 333.0 554.4 334.4 536.7 339.9 518.3 346.7 509.6 346.7 509.6 208.7 510.1 208.7Z" fill="#2a5ee0" fill-rule="evenodd"/>
<path d="M510.1 208.7 639.3 208.7 639.3 318.8 633.0 317.1 623.2 315.0 619.0 314.6 611.7 314.6 607.0 314.3 603.4 314.3 599.2 314.7 589.3 316.0 574.7 318.7 566.9 321.0 560.6 322.5 554.9 324.4 540.9 328.6 523.7 334.7 518.5 336.7 509.6 339.7 509.6 208.7 510.1 208.7Z" fill="#80a8dc" fill-rule="evenodd"/>
<path d="M510.1 208.7 639.3 208.7 639.3 305.4 632.5 303.0 624.2 301.1 619.0 300.1 611.7 299.2 607.0 299.0 598.2 299.1 593.5 299.6 585.1 300.9 577.3 302.7 571.1 304.4 561.7 307.4 551.3 311.4 540.3 315.9 519.0 325.6 509.6 330.2 509.6 208.7 510.1 208.7Z" fill="#82cc8f" fill-rule="evenodd"/>
<path d="M510.1 208.7 639.3 208.7 639.3 285.5 632.5 282.8 626.7 281.3 619.5 279.0 612.2 277.4 608.6 276.9 604.4 276.9 599.7 276.6 597.6 276.6 595.5 277.0 590.3 278.5 586.2 279.4 583.0 280.4 575.8 283.1 567.6 286.8 562.2 289.0 555.9 292.4 550.7 294.7 526.3 307.0 519.0 311.4 509.6 315.4 509.6 208.7 510.1 208.7Z" fill="#50ae5b" fill-rule="evenodd"/>
<path d="M510.1 208.7 538.3 208.7 547.7 217.6 559.5 232.5 560.6 234.2 562.3 238.6 563.2 242.0 563.4 244.7 563.3 246.9 562.8 249.2 561.8 251.9 560.4 254.7 559.0 256.9 557.0 259.7 551.7 265.8 547.4 270.2 535.5 280.7 516.9 296.3 509.6 302.0 509.6 208.7 510.1 208.7Z" fill="#03831e" fill-rule="evenodd"/>
<path d="M510.1 208.7 515.8 208.7 518.1 212.6 522.3 220.9 524.5 225.9 526.3 232.0 527.4 238.1 527.8 243.6 527.5 248.6 526.7 253.0 525.3 258.0 523.4 263.0 521.4 266.9 516.5 275.2 513.2 279.6 509.6 283.8 509.6 208.7 510.1 208.7Z" fill="#006400" fill-rule="evenodd"/>
</g>
<text x="479.4" y="198.6" font-family="Liberation Serif, serif" font-weight="bold" font-size="14.5">f</text>
<text x="493.6" y="199.2" font-size="7.00" text-anchor="start" font-weight="bold" textLength="187.8" lengthAdjust="spacingAndGlyphs">Contour Plot of Xylonic acid (g/L) vs Inoculum, (NH4)2SO4</text>
<text x="508.0" y="339.1" font-size="7.30" text-anchor="end" font-weight="bold">8</text>
<text x="508.0" y="320.9" font-size="7.30" text-anchor="end" font-weight="bold">9</text>
<text x="508.0" y="302.7" font-size="7.30" text-anchor="end" font-weight="bold">10</text>
<text x="508.0" y="284.5" font-size="7.30" text-anchor="end" font-weight="bold">11</text>
<text x="508.0" y="266.3" font-size="7.30" text-anchor="end" font-weight="bold">12</text>
<text x="508.0" y="248.1" font-size="7.30" text-anchor="end" font-weight="bold">13</text>
<text x="508.0" y="229.8" font-size="7.30" text-anchor="end" font-weight="bold">14</text>
<text x="508.0" y="211.6" font-size="7.30" text-anchor="end" font-weight="bold">15</text>
<text x="515.9" y="355.3" font-size="7.30" text-anchor="middle" font-weight="bold">3</text>
<text x="528.9" y="355.3" font-size="7.30" text-anchor="middle" font-weight="bold">4</text>
<text x="541.8" y="355.3" font-size="7.30" text-anchor="middle" font-weight="bold">5</text>
<text x="554.8" y="355.3" font-size="7.30" text-anchor="middle" font-weight="bold">6</text>
<text x="567.7" y="355.3" font-size="7.30" text-anchor="middle" font-weight="bold">7</text>
<text x="580.7" y="355.3" font-size="7.30" text-anchor="middle" font-weight="bold">8</text>
<text x="593.6" y="355.3" font-size="7.30" text-anchor="middle" font-weight="bold">9</text>
<text x="606.6" y="355.3" font-size="7.30" text-anchor="middle" font-weight="bold">10</text>
<text x="619.5" y="355.3" font-size="7.30" text-anchor="middle" font-weight="bold">11</text>
<text x="632.5" y="355.3" font-size="7.30" text-anchor="middle" font-weight="bold">12</text>
<text x="574.2" y="365.2" font-size="7.00" text-anchor="middle" font-weight="bold" textLength="53.6" lengthAdjust="spacingAndGlyphs">(NH4)2SO4 (g/L)</text>
<g transform="translate(488.8 277.2) rotate(-90)"><text x="0.0" y="2.5" font-size="7.00" text-anchor="middle" font-weight="bold" textLength="51.9" lengthAdjust="spacingAndGlyphs">Inoculum (g/L)</text></g>
<rect x="659.2" y="209.6" width="46.0" height="99.2" fill="#fff" stroke="#c4c4c4" stroke-width="0.9"/>
<clipPath id="lcf"><rect x="659.6" y="210.1" width="45.1" height="98.3"/></clipPath><g clip-path="url(#lcf)">
<text x="685.4" y="218.0" font-size="7.50" text-anchor="middle" font-weight="bold" textLength="24.2" lengthAdjust="spacingAndGlyphs">Xylonic</text>
<text x="685.4" y="227.2" font-size="7.50" text-anchor="middle" font-weight="bold" textLength="13.6" lengthAdjust="spacingAndGlyphs">acid</text>
<text x="685.4" y="236.3" font-size="7.50" text-anchor="middle" font-weight="bold" textLength="14.7" lengthAdjust="spacingAndGlyphs">(g/L)</text>
<rect x="661.2" y="242.2" width="6.8" height="6.5" fill="#0c0aa8" stroke="none"/>
<text x="699.0" y="245.8" font-size="7.50" text-anchor="end" font-weight="bold" textLength="13.4" lengthAdjust="spacingAndGlyphs" xml:space="preserve">&lt; 35</text>
<rect x="661.2" y="251.7" width="6.8" height="6.5" fill="#1212e0" stroke="none"/>
<text x="699.0" y="255.3" font-size="7.50" text-anchor="end" font-weight="bold" textLength="26.4" lengthAdjust="spacingAndGlyphs" xml:space="preserve">35  –  40</text>
<rect x="661.2" y="261.1" width="6.8" height="6.5" fill="#2a5ee0" stroke="none"/>
<text x="699.0" y="264.8" font-size="7.50" text-anchor="end" font-weight="bold" textLength="26.4" lengthAdjust="spacingAndGlyphs" xml:space="preserve">40  –  45</text>
<rect x="661.2" y="270.6" width="6.8" height="6.5" fill="#80a8dc" stroke="none"/>
<text x="699.0" y="274.3" font-size="7.50" text-anchor="end" font-weight="bold" textLength="26.4" lengthAdjust="spacingAndGlyphs" xml:space="preserve">45  –  50</text>
<rect x="661.2" y="280.1" width="6.8" height="6.5" fill="#82cc8f" stroke="none"/>
<text x="699.0" y="283.8" font-size="7.50" text-anchor="end" font-weight="bold" textLength="26.4" lengthAdjust="spacingAndGlyphs" xml:space="preserve">50  –  55</text>
<rect x="661.2" y="289.6" width="6.8" height="6.5" fill="#50ae5b" stroke="none"/>
<text x="699.0" y="293.3" font-size="7.50" text-anchor="end" font-weight="bold" textLength="26.4" lengthAdjust="spacingAndGlyphs" xml:space="preserve">55  –  60</text>
<rect x="661.2" y="299.1" width="6.8" height="6.5" fill="#03831e" stroke="none"/>
<text x="699.0" y="302.8" font-size="7.50" text-anchor="end" font-weight="bold" textLength="26.4" lengthAdjust="spacingAndGlyphs" xml:space="preserve">60  –  65</text>
<rect x="661.2" y="308.6" width="6.8" height="6.5" fill="#006400" stroke="none"/>
</g>
<rect x="659.0" y="318.9" width="49.4" height="33.7" fill="#fff" stroke="#b0b0b0" stroke-width="0.9"/>
<text x="683.6" y="326.5" font-size="7.50" text-anchor="middle" font-weight="bold" textLength="38.5" lengthAdjust="spacingAndGlyphs">Hold Values</text>
<text x="664.1" y="335.9" font-size="7.50" text-anchor="start" font-weight="bold" textLength="15.1" lengthAdjust="spacingAndGlyphs">Urea</text>
<text x="702.9" y="335.9" font-size="7.50" text-anchor="end" font-weight="bold" textLength="12.8" lengthAdjust="spacingAndGlyphs">11.5</text>
<text x="664.1" y="345.4" font-size="7.50" text-anchor="start" font-weight="bold" textLength="21.9" lengthAdjust="spacingAndGlyphs">Xylose</text>
<text x="702.9" y="345.4" font-size="7.50" text-anchor="end" font-weight="bold" textLength="7.6" lengthAdjust="spacingAndGlyphs">60</text>
</g>
</svg>
</body></html>
